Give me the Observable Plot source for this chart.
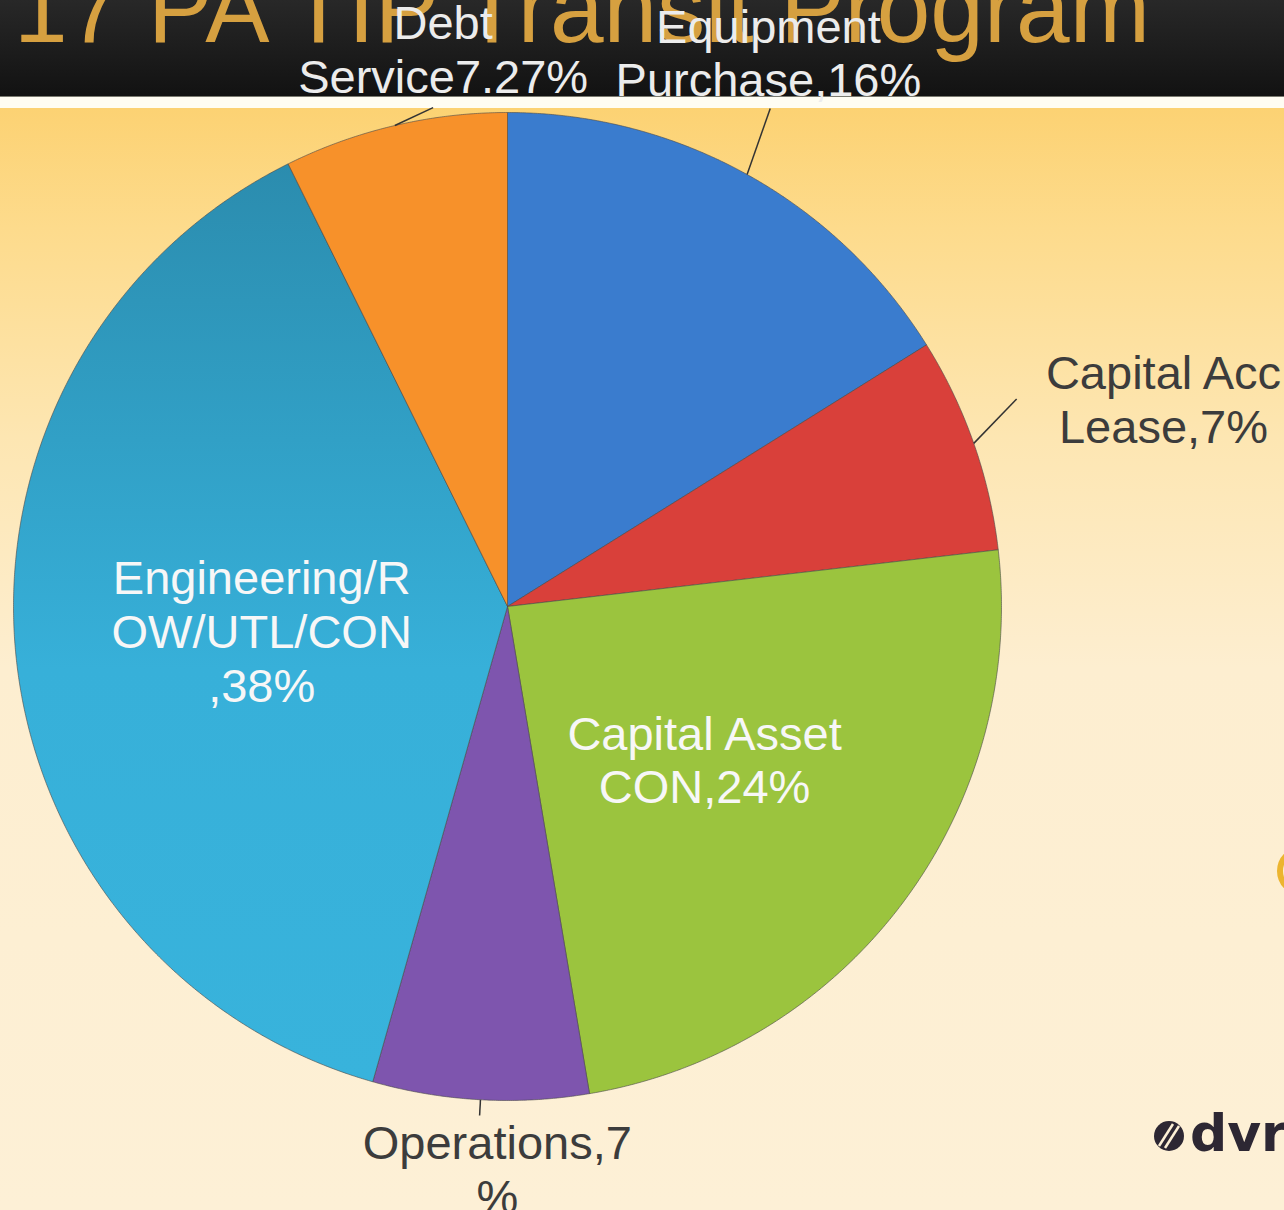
<!DOCTYPE html>
<html>
<head>
<meta charset="utf-8">
<script src="https://cdn.jsdelivr.net/npm/d3@7"></script>
<script src="https://cdn.jsdelivr.net/npm/@observablehq/plot@0.6"></script>
<style>
  html, body { margin: 0; padding: 0; }
  body { width: 1284px; height: 1210px; overflow: hidden; position: relative; font-family: "Liberation Sans", Arial, sans-serif; }
  #header { position: absolute; left: 0; top: 0; width: 1284px; height: 96px; background: linear-gradient(#282828, #121212); }
  #hline { position: absolute; left: 0; top: 96px; width: 1284px; height: 1px; background: #7a7a70; }
  #band { position: absolute; left: 0; top: 97px; width: 1284px; height: 11px; background: #fffdf3; }
  #bodybg { position: absolute; left: 0; top: 108px; width: 1284px; height: 1102px;
    background: linear-gradient(#fcd273 0px, #fddb8c 120px, #fde6b2 330px, #fdeed0 560px, #fdf0d6 1102px); }
  #deco { position: absolute; left: 0; top: 0; }
  #chart { position: absolute; left: 0; top: 0; }
</style>
</head>
<body>
<div id="header">
  <svg width="1284" height="96">
    <text x="14" y="42" font-size="98" fill="#d6a040" textLength="1136" lengthAdjust="spacingAndGlyphs"
      font-family="Liberation Sans Narrow, Liberation Sans, Arial, sans-serif">17 PA TIP Transit Program</text>
  </svg>
</div>
<div id="hline"></div>
<div id="band"></div>
<div id="bodybg"></div>
<svg id="deco" width="1284" height="1210">
  <circle cx="1302" cy="871" r="22" fill="none" stroke="#eaae1e" stroke-width="6" opacity="0.9"></circle>
  <circle cx="1169" cy="1136" r="15" fill="#2d2733"></circle>
  <line x1="1159" y1="1146" x2="1173" y2="1124" stroke="#fdf0d6" stroke-width="2.5"></line>
  <line x1="1165" y1="1148" x2="1179" y2="1126" stroke="#fdf0d6" stroke-width="2.5"></line>
  <text x="1190" y="1151" font-size="52" font-weight="bold" fill="#2d2733" font-family="DejaVu Sans, sans-serif">dvr</text>
</svg>
<div id="chart"></div>
<script>
// ---- data ----
const categories = ["Equipment Purchase", "Capital Acc Lease", "Capital Asset CON", "Operations", "Engineering/ROW/UTL/CON", "Debt Service"];
const shares = [16, 7, 24, 7, 38, 7.27];
const labelTexts = ["Equipment\nPurchase,16%", "Capital Acc\nLease,7%", "Capital Asset\nCON,24%", "Operations,7\n%", "Engineering/R\nOW/UTL/CON\n,38%", "Debt\nService7.27%"];

// ---- styles / layout ----
const sliceColors = ["#3a7cce", "#d9403a", "#9bc43e", "#7e55ae", "url(#cyanGrad)", "#f7912a"];
const labelColors = ["#ececec", "#3c3c3c", "#f7f7f7", "#3c3c3c", "#f7f7f7", "#ececec"];
const labelRadius = [1.240, 1.393, 0.505, 1.139, 0.50, 1.136];
const labelAngleShift = [-3.8, 1.7, 0.9, -2.1, -0.4, 6.6];   // degrees from slice mid-angle
const leaderRadius = [1.14, 1.113, null, 1.032, null, 1.021];
const leaderAngleShift = [-1.2, -2.9, null, 0, null, 4.7];

const deg = Math.PI / 180;
const polar = (a, r) => ({x: r * Math.sin(a), y: r * Math.cos(a)});
const arcs = d3.pie().sort(null).value(d => d)(shares);

const slicePolys = arcs.map((arc) => {
  const a0 = arc.startAngle, a1 = arc.endAngle;
  const n = Math.max(2, Math.ceil((a1 - a0) / (0.25 * deg)));
  const pts = [{x: 0, y: 0}];
  for (let k = 0; k <= n; k++) pts.push(polar(a0 + (a1 - a0) * k / n, 1));
  pts.push({x: 0, y: 0});
  return pts;
});

const labelRows = arcs.map((arc, i) => {
  const mid = (arc.startAngle + arc.endAngle) / 2 + labelAngleShift[i] * deg;
  const p = polar(mid, labelRadius[i]);
  return {x: p.x, y: p.y, text: labelTexts[i], color: labelColors[i]};
});

const leaderRows = arcs.map((arc, i) => {
  if (leaderRadius[i] == null) return null;
  const mid = (arc.startAngle + arc.endAngle) / 2;
  const p1 = polar(mid, 1), p2 = polar(mid + leaderAngleShift[i] * deg, leaderRadius[i]);
  return {x1: p1.x, y1: p1.y, x2: p2.x, y2: p2.y};
}).filter(d => d);

const chart = Plot.plot({
  width: 1284,
  height: 1210,
  margin: 0,
  x: {domain: [-1, 1], range: [13, 1001], axis: null},
  y: {domain: [-1, 1], range: [1100, 112], axis: null},
  color: {type: "identity"},
  style: {background: "transparent", overflow: "visible"},
  marks: [
    ...slicePolys.map((pts, i) => Plot.line(pts, {
      x: "x", y: "y", fill: sliceColors[i], stroke: "#4a4a4a", strokeWidth: 1, strokeOpacity: 0.6, strokeLinejoin: "round"
    })),
    Plot.link(leaderRows, {x1: "x1", y1: "y1", x2: "x2", y2: "y2", stroke: "#333333", strokeWidth: 1.5}),
    Plot.text(labelRows, {
      x: "x", y: "y", text: "text", fill: "color", fontSize: 47, lineHeight: 1.14,
      lineAnchor: "middle", textAnchor: "middle", fontFamily: "Liberation Sans, Arial, sans-serif"
    })
  ]
});

// gradient definition for the shaded cyan slice
const ns = "http://www.w3.org/2000/svg";
const defs = document.createElementNS(ns, "defs");
const grad = document.createElementNS(ns, "linearGradient");
grad.setAttribute("id", "cyanGrad");
grad.setAttribute("x1", "0"); grad.setAttribute("y1", "0");
grad.setAttribute("x2", "0"); grad.setAttribute("y2", "1");
[["0", "#2b8cae"], ["0.3", "#31a0c6"], ["0.55", "#37b0d9"], ["1", "#38b3dc"]].forEach(([o, c]) => {
  const s = document.createElementNS(ns, "stop");
  s.setAttribute("offset", o); s.setAttribute("stop-color", c);
  grad.appendChild(s);
});
defs.appendChild(grad);
chart.insertBefore(defs, chart.firstChild);

document.getElementById("chart").appendChild(chart);
</script>
</body>
</html>
